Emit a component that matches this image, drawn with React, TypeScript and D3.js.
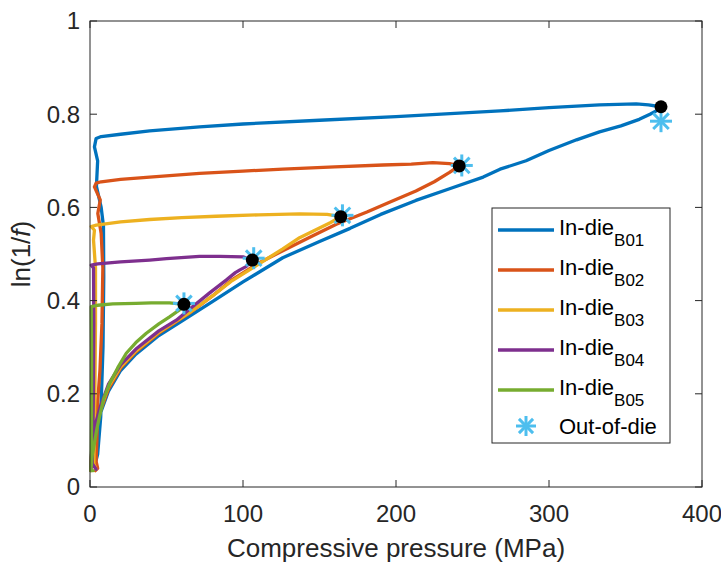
import React from "react";
import * as d3 from "d3";

// pressure (MPa), ln(1/f) pairs: loading then unloading
const b01: [number, number][] = [
  [0.5, 0.04], [1, 0.07], [2, 0.095], [4, 0.125], [7, 0.16], [12, 0.205], [20, 0.25],
  [30, 0.285], [45, 0.325], [60, 0.356], [80, 0.398], [100, 0.44], [126, 0.492],
  [150, 0.527], [170, 0.555], [190, 0.585], [213, 0.615], [235, 0.64], [257, 0.665],
  [268, 0.682], [285, 0.7], [300, 0.722], [318, 0.745], [333, 0.762], [347, 0.775],
  [359, 0.789], [366, 0.8], [370, 0.807], [373, 0.816],
  [365, 0.82], [357, 0.822], [333, 0.82], [300, 0.814], [268, 0.807], [200, 0.795],
  [150, 0.787], [100, 0.779], [71.6, 0.773], [39, 0.764], [20, 0.757], [7.3, 0.752],
  [4, 0.748], [2.9, 0.73], [5, 0.7], [4.2, 0.645], [7.3, 0.6], [8.8, 0.56], [9, 0.45],
  [8.5, 0.3], [7, 0.15], [5, 0.07], [3, 0.045],
];
const b02: [number, number][] = [
  [0.5, 0.035], [1, 0.065], [2, 0.095], [4, 0.13], [7, 0.165], [12, 0.21], [20, 0.255],
  [30, 0.29], [45, 0.33], [65, 0.373], [80, 0.41], [93, 0.445], [110, 0.48], [126, 0.507],
  [145, 0.538], [161, 0.564], [181, 0.59], [195, 0.61], [213, 0.635], [225, 0.655],
  [235, 0.675], [241.3, 0.689],
  [235, 0.694], [224, 0.696], [210, 0.693], [191.5, 0.691], [160, 0.687], [126, 0.682],
  [100, 0.678], [71.6, 0.673], [39, 0.665], [20, 0.66], [7.3, 0.655], [4, 0.652],
  [2.9, 0.644], [6.7, 0.616], [5.1, 0.587], [7.3, 0.544], [8.4, 0.47], [7.8, 0.35],
  [6.5, 0.25], [5.1, 0.187], [4.5, 0.1], [4, 0.055], [5, 0.04], [3.5, 0.035],
];
const b03: [number, number][] = [
  [0.5, 0.04], [1, 0.07], [2, 0.1], [4, 0.135], [7, 0.17], [12, 0.215], [20, 0.258],
  [30, 0.292], [45, 0.332], [65, 0.374], [80, 0.41], [93, 0.443], [110, 0.478],
  [126, 0.511], [137, 0.535], [150, 0.556], [157, 0.567], [163.9, 0.58],
  [155, 0.585], [137, 0.586], [110, 0.584], [82.5, 0.581], [60, 0.578], [39, 0.574],
  [20, 0.569], [4.1, 0.562], [0.8, 0.559], [2.9, 0.551], [2.3, 0.53], [3.6, 0.47],
  [3.6, 0.35], [3.2, 0.2], [2.8, 0.1], [2.5, 0.05], [4, 0.038],
];
const b04: [number, number][] = [
  [0.5, 0.04], [1, 0.075], [2, 0.105], [4, 0.14], [7, 0.175], [12, 0.22], [20, 0.262],
  [30, 0.296], [45, 0.335], [56.4, 0.358], [67, 0.387], [78, 0.416], [89, 0.444],
  [95, 0.46], [98, 0.466], [102, 0.473], [106.1, 0.487],
  [100, 0.494], [85, 0.495], [71.6, 0.495], [50, 0.49], [39, 0.487], [20, 0.483],
  [5, 0.479], [0.8, 0.476], [2.3, 0.47], [2.5, 0.35], [2.2, 0.2], [1.8, 0.1],
  [1.5, 0.05], [4, 0.038],
];
const b05: [number, number][] = [
  [0.8, 0.044], [1.5, 0.07], [2.9, 0.094], [4.5, 0.125], [6.2, 0.151], [9, 0.19],
  [12.8, 0.222], [18, 0.255], [23.7, 0.287], [30, 0.31], [36.8, 0.33], [45, 0.35],
  [52, 0.365], [58.5, 0.38], [61.4, 0.392],
  [52, 0.395], [40, 0.395], [30, 0.394], [14.9, 0.393], [5, 0.39], [0.8, 0.387],
  [1, 0.3], [1, 0.15], [0.8, 0.06], [0.5, 0.035], [2, 0.035],
];

const peaks: [number, number][] = [
  [61.4, 0.392], [106.1, 0.487], [163.9, 0.58], [241.3, 0.689], [373.2, 0.816],
];
const outOfDie: [number, number][] = [
  [61.4, 0.394], [107, 0.491], [165, 0.583], [243, 0.69], [373.2, 0.785],
];

const seriesNames = ["B01", "B02", "B03", "B04", "B05"];
const seriesData = [b01, b02, b03, b04, b05];
const colors = ["#0072BD", "#D95319", "#EDB120", "#7E2F8E", "#77AC30"];
const starColor = "#4DBEEE";

const xTicks = [0, 100, 200, 300, 400];
const yTicks = [0, 0.2, 0.4, 0.6, 0.8, 1];

const W = 721;
const H = 565;
const m = { left: 90, right: 702, top: 21, bottom: 487 };
const font = "'Liberation Sans', Arial, Helvetica, sans-serif";
const axisColor = "#262626";

const Star = ({ x, y, r }: { x: number; y: number; r: number }) => {
  const d = r * Math.SQRT1_2;
  return (
    <g stroke={starColor} strokeWidth={3}>
      <line x1={x - r} y1={y} x2={x + r} y2={y} />
      <line x1={x} y1={y - r} x2={x} y2={y + r} />
      <line x1={x - d} y1={y - d} x2={x + d} y2={y + d} />
      <line x1={x - d} y1={y + d} x2={x + d} y2={y - d} />
    </g>
  );
};

export default function App() {
  const x = d3.scaleLinear().domain([0, 400]).range([m.left, m.right]);
  const y = d3.scaleLinear().domain([0, 1]).range([m.bottom, m.top]);
  const line = d3
    .line<[number, number]>()
    .x((d) => x(d[0]))
    .y((d) => y(d[1]));

  const tickLen = 7;
  const legend = { x: 492, y: 208, w: 178, h: 235 };
  const rowY = (i: number) => 230 + i * 40;

  return (
    <svg
      width={W}
      height={H}
      style={{ position: "absolute", left: 0, top: 0, background: "#fff" }}
      fontFamily={font}
    >
      <rect x={0} y={0} width={W} height={H} fill="#fff" />

      {/* data lines */}
      <g fill="none" strokeWidth={3.3} strokeLinejoin="round" strokeLinecap="round">
        {seriesData.map((s, i) => (
          <path key={i} d={line(s) || ""} stroke={colors[i]} />
        ))}
      </g>
      {outOfDie.map((p, i) => (
        <Star key={i} x={x(p[0])} y={y(p[1])} r={11} />
      ))}
      {peaks.map((p, i) => (
        <circle key={i} cx={x(p[0])} cy={y(p[1])} r={6.5} fill="#000" />
      ))}

      {/* axes box */}
      <rect
        x={m.left}
        y={m.top}
        width={m.right - m.left}
        height={m.bottom - m.top}
        fill="none"
        stroke={axisColor}
        strokeWidth={1}
      />
      <g stroke={axisColor} strokeWidth={1}>
        {xTicks.map((t) => (
          <g key={t}>
            <line x1={x(t)} x2={x(t)} y1={m.bottom} y2={m.bottom - tickLen} />
            <line x1={x(t)} x2={x(t)} y1={m.top} y2={m.top + tickLen} />
          </g>
        ))}
        {yTicks.map((t) => (
          <g key={t}>
            <line x1={m.left} x2={m.left + tickLen} y1={y(t)} y2={y(t)} />
            <line x1={m.right} x2={m.right - tickLen} y1={y(t)} y2={y(t)} />
          </g>
        ))}
      </g>
      <g fill={axisColor} fontSize={24}>
        {xTicks.map((t) => (
          <text key={t} x={x(t)} y={m.bottom + 35} textAnchor="middle">
            {t}
          </text>
        ))}
        {yTicks.map((t) => (
          <text key={t} x={m.left - 10} y={y(t)} dy="0.35em" textAnchor="end">
            {t}
          </text>
        ))}
      </g>
      <text x={(m.left + m.right) / 2} y={557} textAnchor="middle" fontSize={26} fill={axisColor}>
        Compressive pressure (MPa)
      </text>
      <text
        transform={`translate(30,${(m.top + m.bottom) / 2}) rotate(-90)`}
        textAnchor="middle"
        fontSize={26}
        fill={axisColor}
      >
        ln(1/<tspan fontStyle="italic">f</tspan>)
      </text>

      {/* legend */}
      <rect
        x={legend.x}
        y={legend.y}
        width={legend.w}
        height={legend.h}
        fill="#fff"
        stroke={axisColor}
        strokeWidth={1}
      />
      {seriesNames.map((n, i) => (
        <g key={n}>
          <line x1={498} x2={554} y1={rowY(i)} y2={rowY(i)} stroke={colors[i]} strokeWidth={3.3} />
          <text x={559} y={rowY(i) + 5} fontSize={22} fill="#000">
            In-die
            <tspan fontSize={17} dy={11}>
              {n}
            </tspan>
          </text>
        </g>
      ))}
      <Star x={526} y={426} r={10} />
      <text x={559} y={434} fontSize={22} fill="#000">
        Out-of-die
      </text>
    </svg>
  );
}
